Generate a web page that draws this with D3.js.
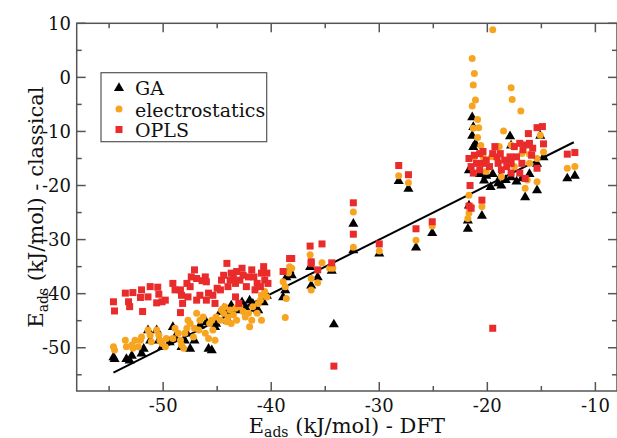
<!DOCTYPE html>
<html>
<meta charset="utf-8" />
<head>
<script src="https://d3js.org/d3.v7.min.js"></script>
<style>
  body { margin: 0; background: #fff; }
</style>
</head>
<body>
<div id="chart"></div>
<script>
// GA (black triangles), DFT energy vs classical energy
var gaData = [
  [-54.6,-51.7],[-54.5,-52.0],[-53.4,-52.0],[-53.1,-52.3],[-52.9,-51.4],[-52.0,-51.0],[-51.8,-50.1],
  [-51.4,-46.7],[-51.2,-48.6],[-50.6,-46.7],[-50.4,-48.6],[-50.1,-49.8],[-49.4,-48.9],[-49.1,-46.1],
  [-48.9,-48.0],[-48.3,-49.8],[-48.0,-48.6],[-47.8,-47.3],[-47.5,-50.1],[-47.1,-48.6],[-46.6,-45.8],
  [-46.0,-45.2],[-45.8,-50.1],[-45.5,-50.4],[-45.2,-46.1],[-45.1,-45.5],[-44.7,-43.3],[-44.4,-42.7],
  [-44.1,-43.6],[-44.0,-44.9],[-43.7,-42.1],[-43.2,-43.0],[-42.7,-41.5],[-42.4,-42.4],[-42.0,-41.2],
  [-41.7,-41.8],[-41.5,-42.7],[-40.9,-41.2],[-40.7,-41.5],[-40.4,-40.3],[-41.2,-43.0],[-38.9,-40.6],
  [-38.7,-39.3],[-38.6,-36.9],[-38.3,-35.6],
  [-38.1,-36.5],[-36.4,-35.0],[-35.7,-36.9],[-36.3,-38.4],[-34.4,-35.7],[-32.4,-27.0],[-32.4,-31.9],
  [-30.0,-32.5],[-28.2,-19.1],[-27.3,-20.5],[-26.6,-31.4],[-25.1,-28.7],[-34.2,-45.6],
  [-21.4,-7.3],[-21.3,-9.1],[-21.4,-10.7],[-21.1,-12.2],[-21.3,-12.8],[-17.9,-10.8],[-15.1,-10.7],
  [-17.8,-12.5],[-14.8,-14.7],[-15.4,-15.9],[-20.7,-17.8],[-20.1,-18.1],[-19.5,-17.8],[-18.8,-18.4],
  [-18.7,-19.9],[-17.8,-18.4],[-16.5,-22.1],[-15.4,-20.8],[-12.6,-18.6],[-11.9,-18.1],[-21.7,-17.1],
  [-20.5,-25.5],[-21.8,-26.4],[-16.1,-17.8],[-21.7,-23.6],[-21.8,-27.9],
  [-19.0,-19.5],[-18.3,-18.9],[-17.3,-19.2],[-16.8,-18.6],[-20.3,-19.0],[-19.7,-20.2]
];

// electrostatics (orange circles)
var esData = [
  [-54.6,-49.8],[-54.5,-50.4],[-53.5,-48.6],[-53.4,-49.8],[-52.9,-49.5],[-52.8,-50.1],[-52.6,-48.6],
  [-52.3,-49.8],[-52.1,-48.6],[-52.0,-48.0],[-51.4,-46.7],[-51.2,-47.7],[-51.1,-48.9],[-50.6,-46.7],
  [-50.4,-47.7],[-50.3,-48.6],[-50.1,-49.2],[-49.8,-49.8],[-49.7,-48.3],[-49.1,-48.3],[-48.9,-46.4],
  [-48.6,-47.3],[-48.4,-48.6],[-48.3,-49.5],[-48.1,-50.1],[-48.0,-47.3],[-47.8,-46.4],[-47.7,-44.9],
  [-47.5,-45.5],[-47.2,-48.0],[-47.1,-46.4],[-46.9,-43.6],[-46.7,-46.7],[-46.6,-44.9],[-46.3,-44.3],
  [-46.1,-47.3],[-45.8,-48.3],[-45.7,-45.5],[-45.5,-44.9],[-45.4,-46.7],[-45.2,-48.6],[-45.1,-44.3],
  [-44.7,-44.9],[-44.6,-43.0],[-44.4,-43.6],[-44.3,-42.4],[-44.1,-45.2],[-44.0,-44.3],[-43.8,-43.0],
  [-43.7,-45.5],[-43.5,-43.9],[-43.3,-42.7],[-43.2,-44.9],[-42.9,-42.4],[-42.6,-43.3],[-42.4,-44.3],
  [-42.1,-43.6],[-42.0,-46.1],[-41.8,-44.9],[-41.7,-42.4],[-41.3,-43.6],[-41.2,-41.8],[-41.0,-41.2],
  [-40.9,-40.3],[-40.6,-39.6],[-40.4,-40.6],[-40.9,-44.9],[-38.9,-37.8],[-38.7,-38.7],[-38.6,-40.9],
  [-38.7,-44.4],[-38.3,-35.0],[-38.4,-36.2],
  [-38.1,-35.3],[-36.4,-32.8],[-35.3,-34.3],[-36.3,-37.2],[-36.3,-39.3],[-35.7,-38.0],[-34.3,-35.3],
  [-34.6,-35.3],[-32.4,-24.9],[-32.4,-31.4],[-30.0,-32.1],[-28.2,-18.2],[-27.3,-19.5],[-26.6,-30.1],
  [-25.1,-27.5],
  [-19.5,8.8],[-21.4,3.5],[-21.2,0.7],[-21.3,-1.4],[-21.1,-4.2],[-21.4,-5.3],[-20.9,-7.8],[-20.8,-9.3],
  [-21.3,-9.4],[-20.9,-11.1],[-20.6,-12.6],[-17.8,-1.9],[-17.7,-4.1],[-16.9,-6.2],[-18.5,-9.9],
  [-18.9,-12.8],[-17.8,-12.5],[-16.8,-14.1],[-16.1,-14.2],[-15.1,-10.7],[-15.4,-15.0],[-14.8,-13.8],
  [-19.6,-14.7],[-20.1,-17.4],[-18.7,-18.4],[-17.5,-16.5],[-16.3,-19.0],[-15.4,-19.3],[-16.5,-20.5],
  [-12.6,-16.8],[-11.9,-16.5],[-21.7,-21.8],[-21.5,-23.9],[-21.7,-25.1],[-20.5,-23.9],[-21.8,-26.1],
  [-16.1,-15.9],[-20.4,-14.7],[-21.2,-14.7]
];

// OPLS (red squares)
var oplsData = [
  [-54.6,-41.5],[-54.5,-43.2],[-53.5,-39.9],[-53.2,-41.5],[-52.8,-39.8],[-53.1,-42.4],[-52.0,-39.3],
  [-52.1,-40.7],[-51.9,-43.3],[-51.2,-38.7],[-51.4,-40.6],[-50.5,-38.8],[-50.4,-40.1],[-50.6,-41.7],
  [-50.1,-41.5],[-49.8,-41.2],[-49.1,-38.1],[-48.9,-39.3],[-48.4,-39.3],[-48.3,-40.3],[-48.2,-41.8],
  [-48.4,-43.5],[-47.8,-38.1],[-47.7,-40.6],[-47.5,-38.7],[-47.1,-35.6],[-46.9,-37.2],[-46.4,-37.6],
  [-47.4,-36.9],[-46.9,-41.2],[-46.6,-40.3],[-46.1,-36.9],[-46.0,-37.8],[-46.0,-41.2],[-45.8,-39.9],
  [-45.4,-40.3],[-45.0,-39.0],[-45.2,-41.8],[-44.7,-39.3],[-44.6,-37.5],[-44.4,-36.6],[-44.1,-34.4],
  [-44.0,-38.7],[-43.8,-37.5],[-43.7,-36.2],[-43.5,-37.2],[-43.3,-38.1],[-43.3,-40.6],[-43.2,-35.9],
  [-43.0,-41.8],[-42.9,-37.5],[-42.7,-35.3],[-42.6,-36.6],[-42.3,-38.7],[-42.1,-36.9],[-41.8,-35.6],
  [-41.6,-36.9],[-41.5,-39.3],[-41.3,-38.1],[-40.9,-36.2],[-40.7,-35.0],[-40.6,-37.5],[-41.0,-38.7],
  [-40.4,-36.2],[-40.3,-38.1],[-38.9,-35.9],[-38.3,-33.5],
  [-38.1,-33.5],[-36.4,-31.2],[-35.3,-30.8],[-36.3,-34.1],[-36.3,-34.4],[-35.7,-35.6],[-34.4,-34.3],
  [-32.4,-23.2],[-32.4,-29.0],[-30.0,-30.8],[-28.2,-16.3],[-27.3,-18.0],[-26.6,-28.0],[-25.1,-26.7],
  [-34.2,-53.4],[-19.5,-46.4],
  [-21.7,-15.0],[-21.5,-16.5],[-21.6,-20.0],[-21.7,-23.8],[-21.5,-24.2],[-20.5,-22.7],[-21.2,-14.4],
  [-20.7,-14.1],[-20.4,-13.7],[-21.0,-15.9],[-20.7,-17.1],[-20.1,-15.3],[-19.8,-16.5],[-19.5,-14.1],
  [-19.1,-14.7],[-19.0,-15.9],[-18.8,-14.1],[-18.7,-17.1],[-18.4,-15.3],[-18.2,-16.5],[-17.9,-14.7],
  [-17.8,-15.9],[-17.5,-12.8],[-17.3,-14.7],[-17.0,-12.2],[-16.8,-15.9],[-16.7,-13.4],[-16.4,-12.5],
  [-16.2,-10.4],[-16.1,-12.2],[-15.8,-13.1],[-15.9,-14.4],[-15.4,-9.3],[-14.9,-9.1],[-14.8,-12.3],
  [-15.4,-16.8],[-16.5,-18.7],[-17.8,-17.7],[-17.0,-17.7],[-12.6,-14.2],[-11.9,-13.9],[-19.3,-12.8],
  [-20.4,-15.9],[-21.3,-17.7]
];

// reference line
var lineX = [-54.6, -12.0];
var lineY = [-54.6, -12.0];

var xTicks = [-50, -40, -30, -20, -10];
var xMinor = [-55, -45, -35, -25, -15];
var yTicks = [10, 0, -10, -20, -30, -40, -50];
var yMinor = [5, -5, -15, -25, -35, -45, -55];
var legendNames = ["GA", "electrostatics", "OPLS"];

var colors = { ga: "#000000", es: "#f7a520", opls: "#ea2b2b" };
var serif = "'DejaVu Serif', 'Liberation Serif', serif";

var width = 617, height = 438;
var plotL = 76.7, plotR = 617, plotT = 23.3, plotB = 391;

var svg = d3.select("#chart").append("svg")
    .attr("width", width)
    .attr("height", height)
    .attr("font-family", serif)
    .style("font-family", serif);

var x = d3.scaleLinear().domain([-58, -8]).range([plotL, plotR]);
var y = d3.scaleLinear().domain([-58, 10]).range([plotB, plotT]);

// fit line
svg.append("line")
    .attr("x1", x(lineX[0])).attr("y1", y(lineY[0]))
    .attr("x2", x(lineX[1])).attr("y2", y(lineY[1]))
    .attr("stroke", "#000").attr("stroke-width", 2);

var tri = d3.symbol().type(d3.symbolTriangle).size(44);

svg.append("g").selectAll("path")
    .data(gaData)
    .enter().append("path")
    .attr("d", tri)
    .attr("transform", function(d) { return "translate(" + x(d[0]) + "," + (y(d[1]) + 0.5) + ")"; })
    .attr("fill", colors.ga);

svg.append("g").selectAll("circle")
    .data(esData)
    .enter().append("circle")
    .attr("cx", function(d) { return x(d[0]); })
    .attr("cy", function(d) { return y(d[1]); })
    .attr("r", 3.5)
    .attr("fill", colors.es);

var sq = 7;
svg.append("g").selectAll("rect")
    .data(oplsData)
    .enter().append("rect")
    .attr("x", function(d) { return x(d[0]) - sq/2; })
    .attr("y", function(d) { return y(d[1]) - sq/2; })
    .attr("width", sq).attr("height", sq)
    .attr("fill", colors.opls);

// frame + ticks (inward, all four sides)
var axisColor = "#555";
svg.append("rect")
    .attr("x", plotL).attr("y", plotT)
    .attr("width", plotR - plotL).attr("height", plotB - plotT)
    .attr("fill", "none").attr("stroke", axisColor).attr("stroke-width", 1.5);

var tk = svg.append("g").attr("stroke", axisColor).attr("stroke-width", 1.5);
xTicks.concat(xMinor).forEach(function(v) {
    var len = xTicks.indexOf(v) >= 0 ? 9 : 5;
    tk.append("line").attr("x1", x(v)).attr("x2", x(v)).attr("y1", plotB).attr("y2", plotB - len);
    tk.append("line").attr("x1", x(v)).attr("x2", x(v)).attr("y1", plotT).attr("y2", plotT + len);
});
yTicks.concat(yMinor).forEach(function(v) {
    var len = yTicks.indexOf(v) >= 0 ? 9 : 5;
    tk.append("line").attr("y1", y(v)).attr("y2", y(v)).attr("x1", plotL).attr("x2", plotL + len);
    tk.append("line").attr("y1", y(v)).attr("y2", y(v)).attr("x1", plotR).attr("x2", plotR - len);
});

svg.append("g").selectAll("text")
    .data(xTicks)
    .enter().append("text")
    .attr("x", function(d) { return x(d); })
    .attr("y", 412)
    .attr("text-anchor", "middle")
    .attr("font-size", 18)
    .attr("fill", "#111")
    .text(function(d) { return d; });

svg.append("g").selectAll("text")
    .data(yTicks)
    .enter().append("text")
    .attr("x", 71)
    .attr("y", function(d) { return y(d) + 6.5; })
    .attr("text-anchor", "end")
    .attr("font-size", 18)
    .attr("fill", "#111")
    .text(function(d) { return d; });

// axis titles
var xTitle = svg.append("text")
    .attr("x", (plotL + plotR) / 2)
    .attr("y", 433)
    .attr("text-anchor", "middle")
    .attr("font-size", 21)
    .attr("fill", "#111");
xTitle.append("tspan").text("E");
xTitle.append("tspan").attr("font-size", 14).attr("dy", 4).text("ads");
xTitle.append("tspan").attr("dy", -4).text(" (kJ/mol) - DFT");

var yTitle = svg.append("text")
    .attr("transform", "translate(43," + ((plotT + plotB) / 2) + ") rotate(-90)")
    .attr("text-anchor", "middle")
    .attr("font-size", 21)
    .attr("fill", "#111");
yTitle.append("tspan").text("E");
yTitle.append("tspan").attr("font-size", 14).attr("dy", 5).text("ads");
yTitle.append("tspan").attr("dy", -5).text(" (kJ/mol) - classical");

// legend
var lg = svg.append("g");
lg.append("rect")
    .attr("x", 101).attr("y", 72.7).attr("width", 165.7).attr("height", 69)
    .attr("fill", "#fff").attr("stroke", axisColor).attr("stroke-width", 1.2);
var rowY = [87.5, 109, 129.5];
legendNames.forEach(function(name, i) {
    if (i === 0) {
        lg.append("path").attr("d", tri)
            .attr("transform", "translate(119," + (rowY[i] + 0.5) + ")")
            .attr("fill", colors.ga);
    } else if (i === 1) {
        lg.append("circle").attr("cx", 119).attr("cy", rowY[i]).attr("r", 3.5).attr("fill", colors.es);
    } else {
        lg.append("rect").attr("x", 119 - sq/2).attr("y", rowY[i] - sq/2)
            .attr("width", sq).attr("height", sq).attr("fill", colors.opls);
    }
    lg.append("text").attr("x", 135).attr("y", rowY[i] + 7.5)
        .attr("font-size", 19).attr("fill", "#111").text(name);
});
</script>
</body>
</html>
